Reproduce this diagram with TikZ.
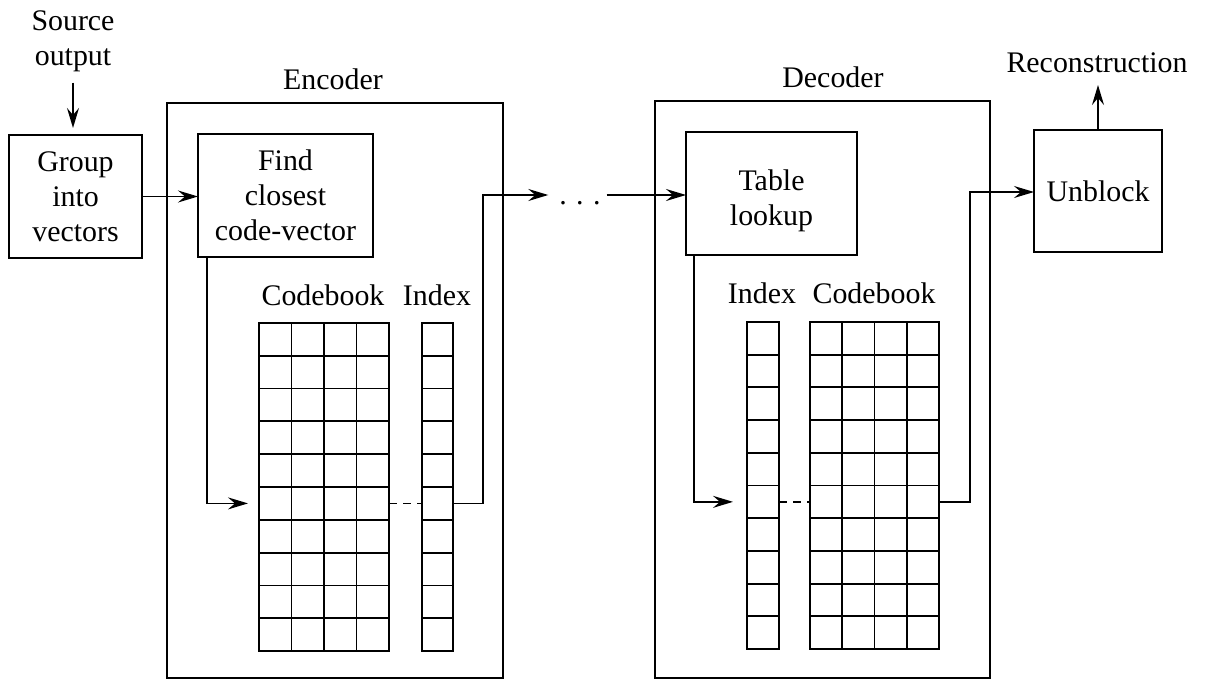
\documentclass[tikz,border=0pt]{standalone}
\usepackage{fontspec}
\setmainfont{Liberation Serif}
\usetikzlibrary{arrows.meta,calc}
\begin{document}
\begin{tikzpicture}[x=1bp,y=-1bp,
  every node/.style={font=\fontsize{30}{35}\selectfont},
  blk/.style={draw,line width=1.8bp,inner sep=0pt,outer sep=0pt,align=center},
  txt/.style={inner sep=0pt,outer sep=0pt},
  tab/.style={draw,line width=1.8bp,inner sep=0pt,outer sep=0pt},
  gridline/.style={line width=1.8bp},
  conn/.style={line width=1.8bp},
  arr/.style={conn,-{Stealth[length=20bp,width=12bp,inset=7bp]}},
  dashline/.style={line width=1.8bp,dash pattern=on 8bp off 6bp}
]
\useasboundingbox (0,0) rectangle (1205,681);

% outer blocks
\node[blk,minimum width=336bp,minimum height=575bp] (enc) at (335,390.5) {};
\node[blk,minimum width=335bp,minimum height=577bp] (dec) at (822.5,389.5) {};

% boxes
\node[blk,minimum width=133bp,minimum height=123bp] (group) at (75.5,196.5) {Group\\into\\vectors};
\node[blk,minimum width=175bp,minimum height=123bp] (find) at (285.5,195.5) {Find\\closest\\code-vector};
\node[blk,minimum width=171bp,minimum height=123bp,
      label={[txt,align=center,yshift=-7bp]center:Table\\lookup}] (table) at (771.5,193.5) {};
\node[blk,minimum width=128bp,minimum height=122bp] (unblock) at (1098,191) {Unblock};

% tables
\node[tab,minimum width=130bp,minimum height=328bp] (cbE) at (324,487) {};
\node[tab,minimum width=31bp,minimum height=328bp] (idxE) at (437.5,487) {};
\node[tab,minimum width=32bp,minimum height=327bp] (idxD) at (763,485.5) {};
\node[tab,minimum width=129bp,minimum height=327bp] (cbD) at (874.5,485.5) {};

\foreach \g in {cbE,cbD}{
  \foreach \i in {1,2,3}{
    \draw[gridline] ($(\g.north west)!\i/4!(\g.north east)$) -- ($(\g.south west)!\i/4!(\g.south east)$);
  }
}
\foreach \g in {cbE,idxE,idxD,cbD}{
  \foreach \j in {1,...,9}{
    \draw[gridline] ($(\g.north west)!\j/10!(\g.south west)$) -- ($(\g.north east)!\j/10!(\g.south east)$);
  }
}

% labels
\node[txt,align=center] (src) at (73,41) {Source\\output};
\node[txt,anchor=base] (encl) at (333,90) {Encoder};
\node[txt,anchor=base] (decl) at (833,88) {Decoder};
\node[txt,anchor=base] (recon) at (1097,73) {Reconstruction};
\node[txt,anchor=base] (cbEl) at (323,305) {Codebook};
\node[txt,anchor=base] (idxEl) at (437,305) {Index};
\node[txt,anchor=base] (idxDl) at (762,303) {Index};
\node[txt,anchor=base] (cbDl) at (874,303) {Codebook};
\node[txt,anchor=base] (dots) at (580,205) {.\hspace{9.5bp}.\hspace{9.5bp}.};

% junction coordinates
\coordinate (jE) at (483,195);
\coordinate (jD) at (970,192);

% connectors
\draw[arr,shorten <=11bp,shorten >=7bp] (src.south) -- (src.south |- group.north);
\draw[arr] (group.east) -- (find.west |- group.east);
\draw[arr,shorten >=11bp] ([xshift=9bp]find.south west) |- ($(cbE.north west)!0.55!(cbE.south west)$);
\draw[dashline] ($(cbE.north east)!0.55!(cbE.south east)$) -- ($(idxE.north west)!0.55!(idxE.south west)$);
\draw[arr,shorten >=11bp] ($(idxE.north east)!0.55!(idxE.south east)$) -| (jE) -- (dots.west |- jE);
\draw[arr,shorten <=6bp] (dots.east |- jE) -- (table.west |- jE);
\draw[arr,shorten >=14bp] ([xshift=8bp]table.south west) |- ($(idxD.north west)!0.55!(idxD.south west)$);
\draw[dashline] ($(idxD.north east)!0.55!(idxD.south east)$) -- ($(cbD.north west)!0.55!(cbD.south west)$);
\draw[arr] ($(cbD.north east)!0.55!(cbD.south east)$) -| (jD) -- (unblock.west |- jD);
\draw[arr,shorten >=12bp] (unblock.north) -- (unblock.north |- recon.base);
\end{tikzpicture}
\end{document}
